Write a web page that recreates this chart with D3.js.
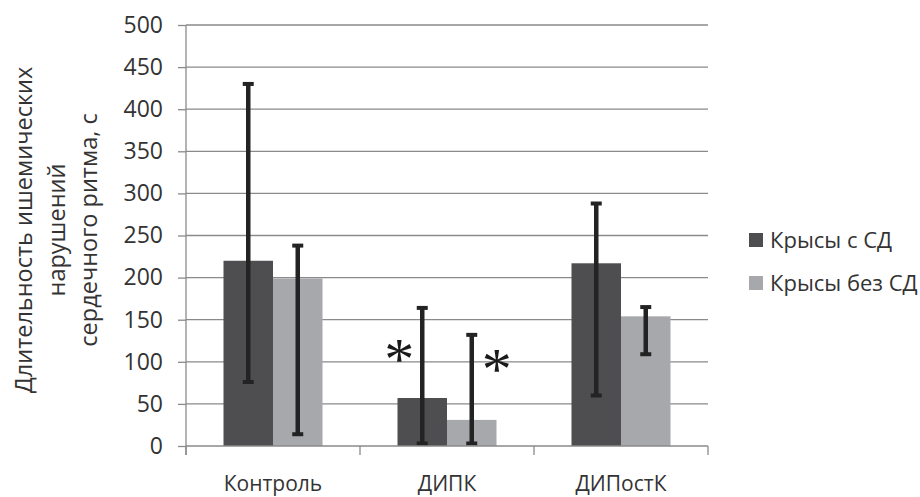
<!DOCTYPE html>
<html><head><meta charset="utf-8">
<script src="https://cdn.jsdelivr.net/npm/d3@7"></script>
<style>
html,body{margin:0;padding:0;background:#fff;}
svg{display:block;}
</style></head>
<body>
<svg id="chart" width="920" height="497"></svg>
<script>
const categories = ["Контроль", "ДИПК", "ДИПостК"];
const seriesNames = ["Крысы с СД", "Крысы без СД"];
const valuesWithDM = [220, 57, 217];
const errHighWithDM = [430, 164, 288];
const errLowWithDM = [76, 3, 60];
const valuesNoDM = [199, 31, 154];
const errHighNoDM = [238, 132, 165];
const errLowNoDM = [14, 3, 109];
const yTicks = [0, 50, 100, 150, 200, 250, 300, 350, 400, 450, 500];
const significant = [[false, false], [true, true], [false, false]];
const yTitle = ["Длительность ишемических", "нарушений", "сердечного ритма, с"];
const colors = ["#4e4e50", "#a7a8ab"];

const svg = d3.select("#chart");
const font = "'Open Sans', sans-serif";
const pLeft = 186, pRight = 708, pTop = 25, pBottom = 446;

const y = d3.scaleLinear().domain([0, 500]).range([pBottom, pTop]);
const x0 = d3.scaleBand().domain(categories).range([pLeft, pRight]).paddingInner(0).paddingOuter(0);
const x1 = d3.scaleBand().domain(seriesNames).range([37.5, 136.5]);

const data = categories.map((c, i) => ({
  cat: c,
  items: [
    {s: seriesNames[0], v: valuesWithDM[i], lo: errLowWithDM[i], hi: errHighWithDM[i], star: significant[i][0]},
    {s: seriesNames[1], v: valuesNoDM[i], lo: errLowNoDM[i], hi: errHighNoDM[i], star: significant[i][1]}
  ]
}));

// gridlines
svg.append("g").selectAll("line").data(yTicks.filter(t => t > 0)).join("line")
  .attr("x1", pLeft).attr("x2", pRight)
  .attr("y1", d => y(d)).attr("y2", d => y(d))
  .attr("stroke", "#8a8a8a").attr("stroke-width", 1.3);

// y axis
const yAxis = svg.append("g").attr("transform", `translate(${pLeft},0)`)
  .call(d3.axisLeft(y).tickValues(yTicks).tickSize(8).tickPadding(15));
yAxis.select(".domain").remove();
yAxis.selectAll(".tick line").attr("stroke", "#8a8a8a").attr("stroke-width", 1.3);
yAxis.selectAll(".tick text").attr("font-family", font).attr("font-size", 23).attr("fill", "#333");
svg.append("line").attr("x1", pLeft).attr("x2", pLeft).attr("y1", pTop).attr("y2", pBottom + 9)
  .attr("stroke", "#8a8a8a").attr("stroke-width", 1.3);

// bars
const groups = svg.append("g").selectAll("g").data(data).join("g")
  .attr("transform", d => `translate(${x0(d.cat)},0)`);
groups.selectAll("rect").data(d => d.items).join("rect")
  .attr("x", d => x1(d.s)).attr("width", x1.bandwidth())
  .attr("y", d => y(d.v)).attr("height", d => y(0) - y(d.v))
  .attr("fill", (d, i) => colors[i]);

// error bars
const eb = groups.selectAll("g.err").data(d => d.items).join("g").attr("class", "err")
  .attr("transform", d => `translate(${x1(d.s) + x1.bandwidth() / 2},0)`);
eb.append("line").attr("x1", 0).attr("x2", 0).attr("y1", d => y(d.hi)).attr("y2", d => y(d.lo))
  .attr("stroke", "#232323").attr("stroke-width", 4.5);
eb.append("line").attr("x1", -5.5).attr("x2", 5.5).attr("y1", d => y(d.hi)).attr("y2", d => y(d.hi))
  .attr("stroke", "#232323").attr("stroke-width", 4);
eb.append("line").attr("x1", -5.5).attr("x2", 5.5).attr("y1", d => y(d.lo)).attr("y2", d => y(d.lo))
  .attr("stroke", "#232323").attr("stroke-width", 4);

// asterisks
groups.each(function(d) {
  const g = d3.select(this);
  d.items.forEach((it, i) => {
    if (!it.star) return;
    const cx = x1(it.s) + x1.bandwidth() / 2 + (i === 0 ? -23 : 25);
    const cy = i === 0 ? y(113) : y(101);
    g.append("text").attr("x", cx).attr("y", cy + 28)
      .attr("text-anchor", "middle")
      .attr("font-family", "'Liberation Serif', serif").attr("font-size", 60)
      .attr("fill", "#1a1a1a").text("*");
  });
});

// x axis
svg.append("line").attr("x1", pLeft).attr("x2", pRight).attr("y1", pBottom).attr("y2", pBottom)
  .attr("stroke", "#8a8a8a").attr("stroke-width", 1.3);
const bounds = categories.map(c => x0(c)).concat([pRight]);
svg.append("g").selectAll("line").data(bounds).join("line")
  .attr("x1", d => d).attr("x2", d => d).attr("y1", pBottom).attr("y2", pBottom + 9)
  .attr("stroke", "#8a8a8a").attr("stroke-width", 1.3);
svg.append("g").selectAll("text").data(categories).join("text")
  .attr("x", d => x0(d) + x0.bandwidth() / 2).attr("y", 491)
  .attr("text-anchor", "middle").attr("font-family", font).attr("font-size", 21)
  .attr("fill", "#333").text(d => d);

// y title
const yt = svg.append("text").attr("transform", "translate(0,230) rotate(-90)")
  .attr("text-anchor", "middle").attr("font-family", font).attr("font-size", 23.5).attr("fill", "#333");
yTitle.forEach((t, i) => {
  yt.append("tspan").attr("x", 0).attr("y", 32 + i * 32.5).text(t);
});

// legend
const lg = svg.append("g").selectAll("g").data(seriesNames).join("g")
  .attr("transform", (d, i) => `translate(749,${233 + i * 43})`);
lg.append("rect").attr("width", 14).attr("height", 14).attr("fill", (d, i) => colors[i]);
lg.append("text").attr("x", 21).attr("y", 15).attr("font-family", font).attr("font-size", 22)
  .attr("fill", "#333").text(d => d);
</script>
</body></html>
